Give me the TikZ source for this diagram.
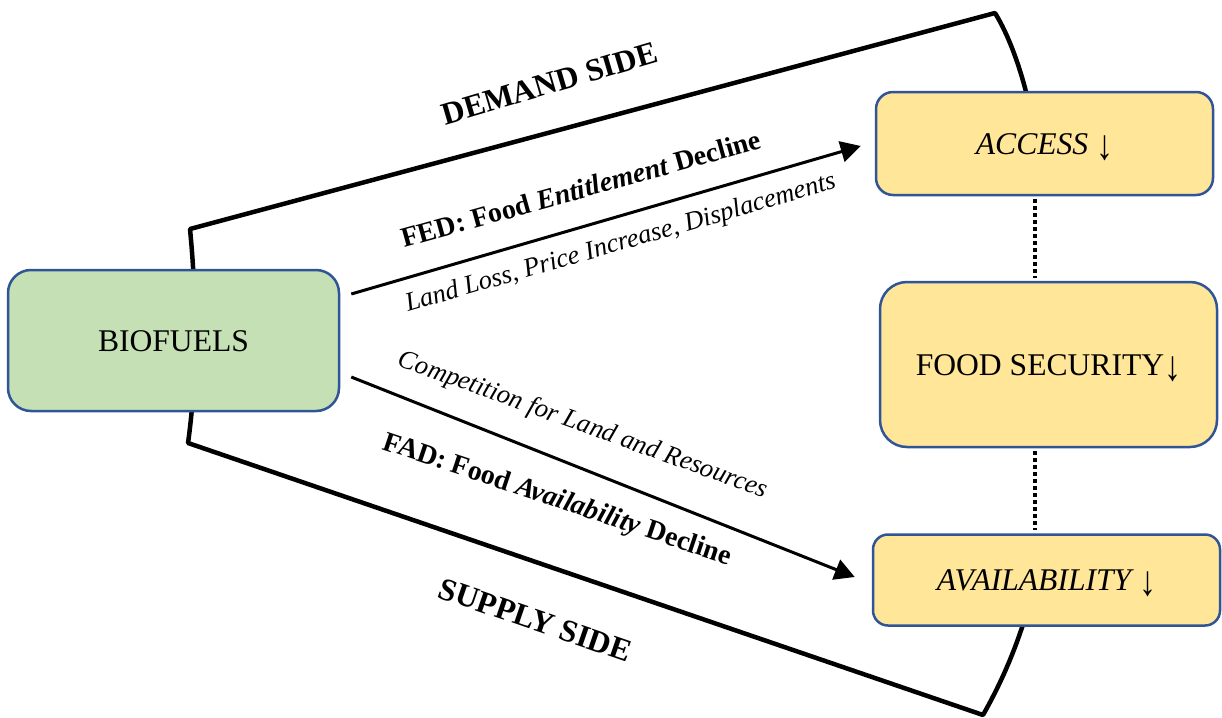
\documentclass[tikz,border=0pt]{standalone}
\usepackage{fontspec}
\setmainfont{Liberation Serif}
\usetikzlibrary{arrows.meta}
\definecolor{boxblue}{HTML}{2F5597}
\definecolor{greenfill}{HTML}{C5E0B4}
\definecolor{yellowfill}{HTML}{FFE699}
\newcommand{\tallarrow}{\raisebox{-6.5pt}{\resizebox*{17pt}{25pt}{\raisebox{\depth}{\upshape ↓}}}}
\tikzset{
 sidebox/.style={draw=boxblue, line width=2.5pt, rectangle, inner sep=0pt, text height=21pt, text depth=0pt, font=\fontsize{31.6}{36}\selectfont},
 outline/.style={line width=4.5pt, line join=round},
 flow/.style={line width=3pt, -{Triangle[length=20pt,width=21pt]}},
 dotline/.style={line width=4pt, dash pattern=on 4pt off 3pt},
 biglabel/.style={font=\fontsize{31.6}{36}\selectfont\bfseries, anchor=base, inner sep=0pt},
 midlabel/.style={font=\fontsize{28}{32}\selectfont\bfseries, anchor=base, inner sep=0pt},
 itlabel/.style={font=\fontsize{26.5}{30}\selectfont\itshape, anchor=base, inner sep=0pt},
}
\begin{document}
\begin{tikzpicture}[x=1pt,y=-1pt]
\useasboundingbox (0,0) rectangle (1222,717);
% outline bracket
\draw[outline] (1028,100) .. controls (1020,66) and (1008,34) .. (995,13) -- (190,229)
  .. controls (197,300) and (197,380) .. (188,443) -- (983,715)
  .. controls (996,692) and (1012,660) .. (1025,618);
% boxes
\node[sidebox, fill=greenfill, rounded corners=23pt, minimum width=331pt, minimum height=141pt] (bio) at (173.5,340.5) {BIOFUELS};
\node[sidebox, fill=yellowfill, rounded corners=17pt, minimum width=337pt, minimum height=103pt, font=\fontsize{31.6}{36}\selectfont\itshape] (access) at (1044.5,143.5) {ACCESS \tallarrow};
\node[sidebox, fill=yellowfill, rounded corners=27pt, minimum width=337pt, minimum height=165pt] (fs) at (1048.5,364.5) {FOOD SECURITY\tallarrow};
\node[sidebox, fill=yellowfill, rounded corners=15pt, minimum width=347pt, minimum height=91pt, font=\fontsize{31.6}{36}\selectfont\itshape] (avail) at (1046.5,580) {AVAILABILITY \tallarrow};
% dotted links
\draw[dotline] ([xshift=-9.5pt,yshift=-3pt]access.south) -- ([xshift=-13.5pt,yshift=3pt]fs.north);
\draw[dotline] ([xshift=-13.5pt,yshift=-3pt]fs.south) -- ([xshift=-11.5pt,yshift=3pt]avail.north);
% arrows
\draw[flow] ([shift={(11,-46.5)}]bio.east) -- ([shift={(-14,2.5)}]access.west);
\draw[flow] ([shift={(11,36.5)}]bio.east) -- ([shift={(-17,-3)}]avail.west);
% labels
\node[biglabel, rotate=16.5] (demand) at (552.5,93.5) {DEMAND SIDE};
\node[biglabel, rotate=-19] (supply) at (532,630) {SUPPLY SIDE};
\node[midlabel, rotate=15.6] (fed) at (583.5,198) {FED: Food \textit{Entitlement} Decline};
\node[itlabel, rotate=16.1] (land) at (622.5,250) {Land Loss, Price Increase, Displacements};
\node[itlabel, rotate=-19.8] (comp) at (580.7,431.7) {Competition for Land and Resources};
\node[midlabel, rotate=-18.5] (fad) at (555,507) {FAD: Food \textit{Availability} Decline};
\end{tikzpicture}
\end{document}
